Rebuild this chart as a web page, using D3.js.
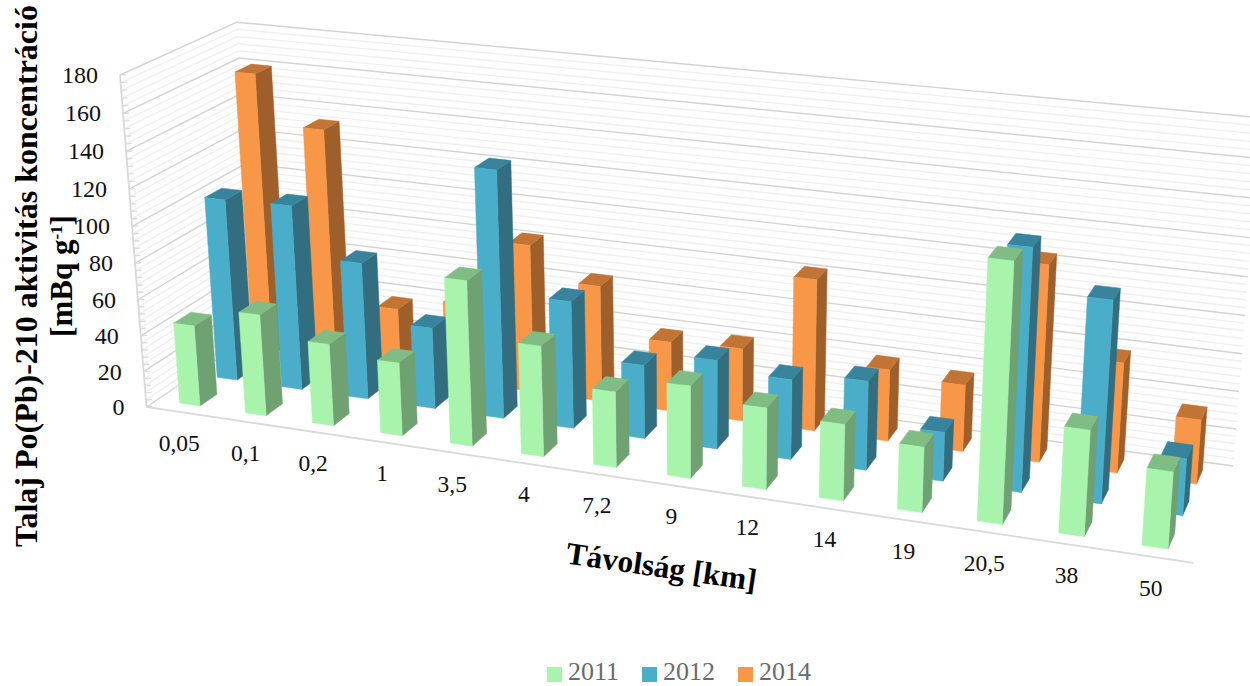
<!DOCTYPE html>
<html lang="hu">
<head>
<meta charset="utf-8">
<title>Talaj Po(Pb)-210 aktivitás koncentráció</title>
<script src="https://cdn.jsdelivr.net/npm/d3@7/dist/d3.min.js"></script>
<style>
  html, body { margin: 0; padding: 0; background: #fff; }
  svg { display: block; }
  text { font-family: "Liberation Serif", serif; }
</style>
</head>
<body>
<svg id="chart" width="1250" height="686" viewBox="0 0 1250 686"></svg>
<script>
// Soil activity concentration by distance from the source, one series per sampling year.
const distances = ["0,05", "0,1", "0,2", "1", "3,5", "4", "7,2", "9", "12", "14", "19", "20,5", "38", "50"];
const years = ["2011", "2012", "2014"];
const values2011 = [45, 56, 45, 40, 89, 59.5, 40.5, 49, 43, 40, 34, 132, 54, 39];
const values2012 = [102, 103, 76, 45, 135, 69.5, 40, 48, 43, 47.5, 26, 126, 104.5, 29.5];
const values2014 = [160.5, 133.5, 37, 44.5, 82.5, 64.5, 38.5, 40, 82.5, 39, 36, 104.5, 58.5, 34];
const valueTicks = [0, 20, 40, 60, 80, 100, 120, 140, 160, 180];
const valueMax = 180;
const minorStep = 4;

const faceColors = {
  "2011": { front: "#a9f4ac", side: "#6fa173", top: "#80bd85" },
  "2012": { front: "#4aadc9", side: "#326e80", top: "#38849c" },
  "2014": { front: "#f99748", side: "#9f5f2a", top: "#c27435" }
};

const svg = d3.select("#chart");

// Perspective camera: the corner of the box plus one vanishing point per axis.
const origin = [146.5, 407];
const vanishU = [-6928, -647], weightU = -0.1289;
const vanishV = [1686, -633], weightV = 0.0769;
const vanishW = [700, 7340], weightW = -0.0457;

function project(u, v, w) {
  const d = 1 + weightU * u + weightV * v + weightW * w;
  return [
    (origin[0] + weightU * u * vanishU[0] + weightV * v * vanishV[0] + weightW * w * vanishW[0]) / d,
    (origin[1] + weightU * u * vanishU[1] + weightV * v * vanishV[1] + weightW * w * vanishW[1]) / d
  ];
}

const xBand = d3.scaleBand().domain(distances).range([0, 1]).paddingInner(0.69).paddingOuter(0.345);
const zBand = d3.scaleBand().domain(years).range([0, 1]).paddingInner(0.55).paddingOuter(0.275);
const yScale = d3.scaleLinear().domain([0, valueMax]).range([0, 1]);

const path = d3.line();
const poly = pts => path(pts) + "Z";

// Walls: gridlines across the back wall and the left wall.
const gridValues = d3.range(0, valueMax + minorStep, minorStep);
const grid = svg.append("g").attr("fill", "none");
gridValues.slice().sort((a, b) => (a % 20 === 0) - (b % 20 === 0)).forEach(val => {
  const w = yScale(val);
  const major = val % 20 === 0;
  grid.append("path")
    .attr("d", path([project(0, 0, w), project(0, 1, w), project(1, 1, w)]))
    .attr("stroke", major ? "#d3d3d3" : "#efefef")
    .attr("stroke-width", 1.4);
  const p = project(0, 0, w);
  grid.append("path")
    .attr("d", path([p, [p[0] + 6, p[1] - 0.5]]))
    .attr("stroke", "#dcdcdc")
    .attr("stroke-width", 1.4);
});

// Box edges: left upright and the front edge of the floor.
grid.append("path").attr("d", path([project(0, 0, 1), project(0, 0, 0), project(1, 0, 0)]))
  .attr("stroke", "#d9d9d9").attr("stroke-width", 1.8);

// Bars, painted back row first so nearer rows cover farther ones.
const rows = [
  { year: "2014", values: values2014 },
  { year: "2012", values: values2012 },
  { year: "2011", values: values2011 }
];
const barsLayer = svg.append("g");
rows.forEach(row => {
  const c = faceColors[row.year];
  const v0 = zBand(row.year), v1 = v0 + zBand.bandwidth();
  const bars = barsLayer.append("g").selectAll("g")
    .data(row.values.map((value, i) => ({ value, category: distances[i] })))
    .join("g");
  const faces = [
    [c.side, d => {
      const u1 = xBand(d.category) + xBand.bandwidth(), w = yScale(d.value);
      return [project(u1, v0, 0), project(u1, v1, 0), project(u1, v1, w), project(u1, v0, w)];
    }],
    [c.top, d => {
      const u0 = xBand(d.category), u1 = u0 + xBand.bandwidth(), w = yScale(d.value);
      return [project(u0, v0, w), project(u1, v0, w), project(u1, v1, w), project(u0, v1, w)];
    }],
    [c.front, d => {
      const u0 = xBand(d.category), u1 = u0 + xBand.bandwidth(), w = yScale(d.value);
      return [project(u0, v0, 0), project(u1, v0, 0), project(u1, v0, w), project(u0, v0, w)];
    }]
  ];
  faces.forEach(([fill, corners]) => {
    bars.append("path")
      .attr("d", d => poly(corners(d)))
      .attr("fill", fill)
      .attr("stroke", fill)
      .attr("stroke-width", 0.5);
  });
});

// Value axis labels follow the left upright.
svg.append("g").selectAll("text").data(valueTicks).join("text")
  .attr("x", d => project(0, 0, yScale(d))[0] - 22)
  .attr("y", d => project(0, 0, yScale(d))[1] + 8)
  .attr("text-anchor", "end")
  .attr("font-size", 24)
  .attr("fill", "#111")
  .text(d => d);

// Distance labels follow the front edge of the floor.
svg.append("g").selectAll("text").data(distances).join("text")
  .attr("x", d => project(xBand(d) + xBand.bandwidth() / 2, 0, 0)[0])
  .attr("y", d => project(xBand(d) + xBand.bandwidth() / 2, 0, 0)[1] + 39)
  .attr("text-anchor", "middle")
  .attr("font-size", 23.5)
  .attr("fill", "#111")
  .text(d => d);

// Axis titles.
svg.append("text")
  .attr("transform", "translate(660,577) rotate(8.3)")
  .attr("text-anchor", "middle")
  .attr("font-size", 31.3)
  .attr("font-weight", "bold")
  .attr("fill", "#000")
  .text("Távolság [km]");

const yTitle = svg.append("text")
  .attr("transform", "translate(37,276) rotate(-90)")
  .attr("text-anchor", "middle")
  .attr("font-weight", "bold")
  .attr("fill", "#000");
yTitle.append("tspan").attr("x", 0).attr("dy", 0).attr("font-size", 32)
  .text("Talaj Po(Pb)-210 aktivitás koncentráció");
yTitle.append("tspan").attr("x", 0).attr("dy", 35).attr("font-size", 31).text("[mBq g");
yTitle.append("tspan").attr("dy", -10).attr("font-size", 17).text("-1");
yTitle.append("tspan").attr("dy", 10).attr("font-size", 31).text("]");

// Legend.
const legendX = [547, 642, 738];
const legend = svg.append("g").selectAll("g").data(years).join("g")
  .attr("transform", (d, i) => `translate(${legendX[i]},667)`);
legend.append("rect").attr("width", 15).attr("height", 15)
  .attr("fill", d => faceColors[d].front);
legend.append("text").attr("x", 21).attr("y", 13)
  .attr("font-size", 26).attr("fill", "#6b6b6b")
  .text(d => d);
</script>
</body>
</html>
